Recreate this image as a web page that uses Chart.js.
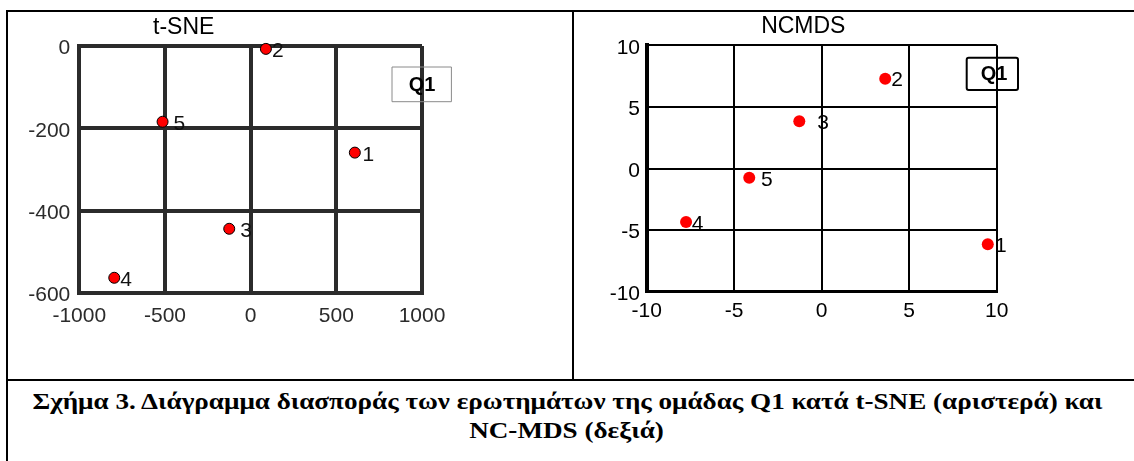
<!DOCTYPE html>
<html><head><meta charset="utf-8">
<script src="https://cdn.jsdelivr.net/npm/chart.js@4.4.0/dist/chart.umd.min.js"></script>
<style>
body{margin:0;background:#fff;}
#page{position:relative;width:1134px;height:461px;overflow:hidden;background:#fff;}
.ln{position:absolute;background:#000;z-index:5;}
#c1wrap{position:absolute;left:0;top:0;width:573px;height:378px;}
#c2wrap{position:absolute;left:574px;top:0;width:560px;height:378px;}
.cap{position:absolute;left:0;width:1134px;height:29px;line-height:29px;text-align:center;white-space:nowrap;
 font-family:"Liberation Serif","Times New Roman",serif;font-weight:bold;font-size:23px;color:#000;}
.cap span{display:inline-block;transform-origin:center center;}
</style></head>
<body>
<div id="page">
  <div id="c1wrap"><canvas id="c1"></canvas></div>
  <div id="c2wrap"><canvas id="c2"></canvas></div>
  <div class="ln" style="left:6px;top:10px;width:1128px;height:2px"></div>
  <div class="ln" style="left:6px;top:10px;width:2px;height:451px"></div>
  <div class="ln" style="left:572px;top:10px;width:2px;height:370px"></div>
  <div class="ln" style="left:6px;top:379px;width:1128px;height:2px"></div>
  <div class="cap" id="cap1" style="top:387px"><span>Σχήμα 3. Διάγραμμα διασποράς των ερωτημάτων της ομάδας Q1 κατά t-SNE (αριστερά) και</span></div>
  <div class="cap" id="cap2" style="top:416px"><span>NC-MDS (δεξιά)</span></div>
</div>
<script>
// ---- data ----
const pointLabels = ['1', '2', '3', '4', '5'];
const tsneX = [608, 89, -125, -796, -514];
const tsneY = [-259, -7, -444, -563, -184];
const ncmdsX = [9.49, 3.63, -1.28, -7.75, -4.14];
const ncmdsY = [-6.15, 7.29, 3.83, -4.34, -0.75];
const tsneXTicks = [-1000, -500, 0, 500, 1000];
const tsneYTicks = [-600, -400, -200, 0];
const ncmdsXTicks = [-10, -5, 0, 5, 10];
const ncmdsYTicks = [-10, -5, 0, 5, 10];
const titles = ['t-SNE', 'NCMDS'];
const boxText = 'Q1';

// caption width fit
(function(){
  const s1 = document.querySelector('#cap1 span');
  const s2 = document.querySelector('#cap2 span');
  const w = s1.getBoundingClientRect().width;
  const k = 1070 / w;
  s1.style.transform = 'scaleX(' + k + ')';
  s2.style.transform = 'scaleX(' + k + ')';
})();

const overlay = {
  id: 'overlay',
  afterDatasetsDraw(chart, args, o) {
    const ctx = chart.ctx, a = chart.chartArea;
    const meta = chart.getDatasetMeta(0);
    ctx.save();
    ctx.font = '21px "Liberation Sans", Arial, sans-serif';
    ctx.fillStyle = o.labelColor;
    ctx.textAlign = 'left';
    ctx.textBaseline = 'middle';
    meta.data.forEach((el, i) => {
      ctx.fillText(o.labels[i], el.x + o.gaps[i], el.y + o.dy);
    });
    // title
    ctx.font = '23px "Liberation Sans", Arial, sans-serif';
    ctx.fillStyle = '#000';
    ctx.textAlign = 'center';
    ctx.fillText(o.title, o.titleX, o.titleY);
    // box
    const bx = a.right + o.box[0], by = a.top + o.box[1];
    ctx.strokeStyle = o.boxColor;
    ctx.lineWidth = o.boxLine;
    ctx.beginPath();
    if (ctx.roundRect) ctx.roundRect(bx, by, o.box[2], o.box[3], o.boxRadius);
    else ctx.rect(bx, by, o.box[2], o.box[3]);
    ctx.stroke();
    ctx.font = 'bold 20px "Liberation Sans", Arial, sans-serif';
    ctx.fillStyle = '#000';
    ctx.fillText(o.boxText, a.right + o.boxTextPos[0], a.top + o.boxTextPos[1]);
    ctx.restore();
  }
};

function makeChart(id, xs, ys, xt, yt, st) {
  return new Chart(document.getElementById(id), {
    type: 'scatter',
    data: { datasets: [{
      data: xs.map((x, i) => ({ x: x, y: ys[i] })),
      pointRadius: st.r, pointHoverRadius: st.r,
      pointBackgroundColor: '#ff0000',
      pointBorderColor: st.pb, pointBorderWidth: st.pbw,
      clip: false
    }]},
    options: {
      animation: false, responsive: true, maintainAspectRatio: false, devicePixelRatio: 1,
      events: [],
      layout: { padding: st.pad },
      plugins: { legend: { display: false }, tooltip: { enabled: false }, title: { display: false },
        overlay: st.ov },
      scales: {
        x: {
          type: 'linear', min: xt[0], max: xt[xt.length - 1],
          afterBuildTicks: s => { s.ticks = xt.map(v => ({ value: v })); },
          afterFit: s => { s.height = st.xh; },
          grid: { color: st.gc, lineWidth: st.gw, drawTicks: false },
          border: { color: st.gc, width: st.bx },
          ticks: { padding: st.xpad, color: st.tc, maxRotation: 0, autoSkip: false,
            callback: v => String(v),
            font: { family: '"Liberation Sans", Arial, sans-serif', size: 21 } }
        },
        y: {
          type: 'linear', min: yt[0], max: yt[yt.length - 1],
          afterBuildTicks: s => { s.ticks = yt.map(v => ({ value: v })); },
          afterFit: s => { s.width = st.yw; },
          grid: { color: st.gc, lineWidth: st.gw, drawTicks: false },
          border: { color: st.gc, width: st.by },
          ticks: { padding: st.ypad, color: st.tc, labelOffset: 2.5, autoSkip: false,
            callback: v => String(v),
            font: { family: '"Liberation Sans", Arial, sans-serif', size: 21 } }
        }
      }
    },
    plugins: [overlay]
  });
}

makeChart('c1', tsneX, tsneY, tsneXTicks, tsneYTicks, {
  r: 5.5, pb: '#000', pbw: 1,
  pad: { left: 0, right: 151, top: 46, bottom: 45 },
  xh: 40, yw: 79.3, gc: '#2b2b2b', gw: 4, bx: 4, by: 4, tc: '#2b2b2b', xpad: 11, ypad: 9,
  ov: { labels: pointLabels, gaps: [7.7, 6, 11, 6, 11], dy: 2.5, labelColor: '#111',
        title: titles[0], titleX: 183.7, titleY: 28,
        box: [-30, 21, 59.4, 34.7], boxColor: '#8a8a8a', boxLine: 1, boxRadius: 0,
        boxText: boxText, boxTextPos: [0, 39] }
});

makeChart('c2', ncmdsX, ncmdsY, ncmdsXTicks, ncmdsYTicks, {
  r: 6, pb: '#ff0000', pbw: 0,
  pad: { left: 0, right: 137.3, top: 45.3, bottom: 50.3 },
  xh: 36, yw: 72.7, gc: '#000', gw: 2, bx: 3, by: 4, tc: '#000', xpad: 7, ypad: 6.7,
  ov: { labels: pointLabels, gaps: [7.3, 6, 18, 5.7, 11.7], dy: 2, labelColor: '#000',
        title: titles[1], titleX: 229.3, titleY: 27,
        box: [-30, 12.4, 51.3, 32.3], boxColor: '#000', boxLine: 2, boxRadius: 2,
        boxText: boxText, boxTextPos: [-2.7, 28.7] }
});
</script>
</body></html>
